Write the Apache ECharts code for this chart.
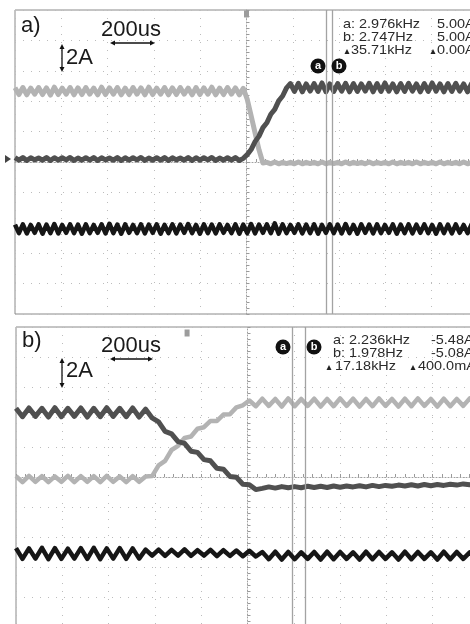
<!DOCTYPE html>
<html><head><meta charset="utf-8">
<script src="https://cdn.jsdelivr.net/npm/echarts@6/dist/echarts.min.js"></script>
<style>html,body{margin:0;padding:0;background:#fff;overflow:hidden;width:470px;height:624px;}#c{width:490px;height:640px;}</style>
</head><body><div id="c"></div>
<script>
// Time axis: microseconds relative to screen centre (200 us/div); value axis: divisions (2 A/div)
const timeStartA = -1000, timeStepA = 17;
const timeStartB = -1000, timeStepB = 28;

// Panel a) light grey trace
const lightA = [
2.44,2.22,2.45,2.21,2.43,2.23,2.45,2.22,2.44,2.20,2.46,2.22,2.43,2.23,2.45,2.21,2.44,2.22,2.45,2.23,
2.43,2.21,2.46,2.22,2.44,2.23,2.45,2.21,2.43,2.22,2.45,2.23,2.44,2.21,2.46,2.22,2.43,2.23,2.45,2.21,
2.44,2.22,2.45,2.23,2.43,2.21,2.45,2.22,2.44,2.23,2.46,2.21,2.43,2.22,2.45,2.23,2.44,2.21,2.42,
2.07,1.52,0.96,0.40,-0.03,
-0.01,-0.06,0.00,-0.06,-0.01,-0.05,-0.01,-0.06,0.00,-0.06,
-0.01,-0.05,-0.01,-0.06,0.00,-0.06,-0.01,-0.05,-0.01,-0.06,
0.00,-0.06,-0.01,-0.05,-0.01,-0.06,0.00,-0.06,-0.01,-0.05,
-0.01,-0.06,0.00,-0.06,-0.01,-0.05,-0.01,-0.06,0.00,-0.06,
-0.01,-0.05,-0.01,-0.06,0.00,-0.06,-0.01,-0.05,-0.01,-0.06,
0.00,-0.06,-0.01,-0.05,-0.01];
// Panel a) dark grey trace
const darkA = [
0.14,0.06,0.15,0.05,0.14,0.07,0.13,0.06,0.15,0.05,
0.14,0.06,0.14,0.07,0.15,0.05,0.13,0.06,0.14,0.06,
0.15,0.05,0.14,0.07,0.13,0.06,0.15,0.05,0.14,0.06,
0.14,0.07,0.15,0.05,0.13,0.06,0.14,0.06,0.15,0.05,
0.14,0.07,0.13,0.06,0.15,0.05,0.14,0.06,0.14,0.07,
0.15,0.05,0.13,0.06,0.14,0.06,0.15,0.05,0.12,
0.24,0.41,0.67,0.85,1.13,1.29,1.57,1.73,2.01,2.17,2.44,
2.58,2.32,2.59,2.31,2.57,2.33,2.58,2.32,2.60,2.31,
2.57,2.32,2.58,2.33,2.59,2.31,2.58,2.32,2.57,2.33,
2.59,2.31,2.58,2.32,2.60,2.33,2.57,2.31,2.58,2.32,
2.59,2.33,2.57,2.31,2.58,2.32,2.60,2.33,2.57,2.31,
2.58,2.32,2.59,2.33,2.57,2.31,2.58,2.32,2.59];
// Panel a) black trace
const blackA = [
-2.06,-2.34,-2.05,-2.35,-2.07,-2.33,-2.05,-2.36,-2.06,-2.34,
-2.04,-2.35,-2.07,-2.33,-2.05,-2.34,-2.06,-2.36,-2.05,-2.34,
-2.07,-2.33,-2.05,-2.35,-2.03,-2.34,-2.06,-2.36,-2.05,-2.33,
-2.07,-2.34,-2.05,-2.35,-2.06,-2.33,-2.05,-2.36,-2.07,-2.34,
-2.05,-2.35,-2.06,-2.33,-2.04,-2.34,-2.07,-2.36,-2.05,-2.34,
-2.06,-2.35,-2.05,-2.33,-2.07,-2.34,-2.05,-2.36,-2.06,-2.34,
-2.04,-2.35,-2.06,-2.33,-2.05,-2.34,-2.02,-2.36,-2.05,-2.34,
-2.07,-2.33,-2.05,-2.35,-2.06,-2.34,-2.05,-2.36,-2.07,-2.33,
-2.05,-2.34,-2.06,-2.35,-2.04,-2.34,-2.07,-2.36,-2.05,-2.33,
-2.06,-2.35,-2.05,-2.34,-2.07,-2.33,-2.05,-2.36,-2.06,-2.34,
-2.05,-2.35,-2.06,-2.33,-2.05,-2.34,-2.07,-2.36,-2.05,-2.34,
-2.06,-2.35,-2.05,-2.33,-2.07,-2.34,-2.05,-2.36,-2.06];

// Panel b) dark grey trace
const darkB = [
2.29,2.01,2.30,2.02,2.29,2.00,2.31,2.01,2.29,2.02,2.30,2.00,2.29,2.01,2.31,2.02,2.29,2.01,2.30,2.00,2.26,
1.97,1.84,1.52,1.44,1.18,1.12,0.86,0.82,0.58,0.54,0.29,0.26,0.02,-0.01,-0.24,-0.26,-0.42,
-0.38,-0.33,-0.37,-0.32,-0.36,-0.32,-0.36,-0.31,-0.35,-0.31,
-0.35,-0.30,-0.34,-0.30,-0.33,-0.29,-0.33,-0.28,-0.32,-0.28,
-0.31,-0.27,-0.30,-0.26,-0.30,-0.25,-0.29,-0.25,-0.28,-0.24,
-0.27,-0.23,-0.26,-0.22,-0.24];
// Panel b) light grey trace
const lightB = [
0.03,-0.17,0.04,-0.16,0.03,-0.17,0.02,-0.16,0.04,-0.17,0.03,-0.16,0.03,-0.17,0.04,-0.16,0.02,-0.17,0.03,-0.16,0.02,
0.03,0.39,0.54,0.90,1.04,1.30,1.35,1.61,1.66,1.87,1.87,2.08,2.09,2.32,2.39,2.55,
2.36,2.61,2.37,2.60,2.35,2.62,2.36,2.60,2.37,2.61,
2.35,2.60,2.36,2.62,2.37,2.61,2.35,2.60,2.36,2.62,
2.37,2.60,2.35,2.61,2.36,2.62,2.37,2.60,2.35,2.61,
2.36,2.60,2.37,2.62,2.35,2.61];
// Panel b) black trace
const blackB = [
-2.37,-2.73,-2.38,-2.72,-2.36,-2.74,-2.37,-2.73,-2.39,-2.72,-2.37,-2.73,-2.36,-2.74,-2.38,-2.72,-2.37,-2.73,-2.38,-2.72,-2.42,
-2.62,-2.42,-2.63,-2.43,-2.62,-2.41,-2.63,-2.44,-2.62,-2.43,-2.64,-2.44,-2.63,-2.45,-2.64,-2.46,-2.65,
-2.50,-2.74,-2.49,-2.75,-2.50,-2.74,-2.51,-2.73,-2.50,-2.75,
-2.49,-2.74,-2.50,-2.73,-2.51,-2.75,-2.49,-2.74,-2.50,-2.73,
-2.51,-2.75,-2.49,-2.74,-2.50,-2.73,-2.51,-2.75,-2.49,-2.74,
-2.50,-2.73,-2.51,-2.75,-2.50];

const cursorsA = [343, 369];
const cursorsB = [192, 248];
const triggerA = [0, 4.87];
const triggerB = [-261, 4.8];

const measA = [['a: 2.976kHz', '5.00A'], ['b: 2.747Hz', '5.00A'], ['35.71kHz', '0.00A']];
const measB = [['a: 2.236kHz', '-5.48A'], ['b: 1.978Hz', '-5.08A'], ['17.18kHz', '400.0mA']];

function pairs(t0, dt, vals) { return vals.map((v, i) => [t0 + dt * i, v]); }

const FF = '"Liberation Sans", Arial, sans-serif';
const C_LIGHT = '#b3b3b3', C_DARK = '#505050', C_BLACK = '#161616';

function xAx(gi) {
  return {type: 'value', gridIndex: gi, min: -1000, max: 1000, interval: 200,
    axisLabel: {show: false},
    axisLine: {show: true, onZero: true, lineStyle: {color: '#a0a0a0', width: 1, type: [1, 2]}},
    axisTick: {show: true, inside: true, length: 3, lineStyle: {color: '#9a9a9a'}},
    minorTick: {show: true, splitNumber: 5, length: 3, lineStyle: {color: '#9a9a9a'}},
    splitLine: {show: true, lineStyle: {color: '#bcbcbc', type: [1, 7], width: 1}}};
}
function yAx(gi) {
  return {type: 'value', gridIndex: gi, min: -5, max: 5, interval: 1,
    axisLabel: {show: false},
    axisLine: {show: true, onZero: true, lineStyle: {color: '#a0a0a0', width: 1, type: [1, 2]}},
    axisTick: {show: true, inside: true, length: 3, lineStyle: {color: '#9a9a9a'}},
    minorTick: {show: true, splitNumber: 5, length: 3, lineStyle: {color: '#9a9a9a'}},
    splitLine: {show: true, lineStyle: {color: '#bcbcbc', type: [1, 7], width: 1}}};
}
function trace(gi, t0, dt, vals, color, w, z, extra) {
  return Object.assign({type: 'line', xAxisIndex: gi, yAxisIndex: gi, data: pairs(t0, dt, vals),
    showSymbol: false, symbol: 'none', silent: true, z: z,
    lineStyle: {color: color, width: w, join: 'round'}}, extra || {});
}
function cursorLines(xs) {
  return {symbol: 'none', silent: true, label: {show: false}, animation: false,
    lineStyle: {color: '#a3a3a3', width: 1.3, type: 'solid'},
    data: xs.map(x => ({xAxis: x}))};
}
function trigMark(c) {
  return {symbol: 'rect', symbolSize: [5, 7], silent: true, label: {show: false},
    itemStyle: {color: '#9c9c9c'}, data: [{coord: c}]};
}

const G = [];
function txt(s, x, y, size, sx, fill) {
  G.push({type: 'text', z: 100, x: x, y: y, scaleX: sx || 1, style: {text: s, x: 0, y: 0,
    font: size + 'px ' + FF, fill: fill || '#1a1a1a', verticalAlign: 'middle', align: 'left'}});
}
function tri(cx, by, s) {
  G.push({type: 'polygon', z: 100, shape: {points: [[cx - s / 2, by], [cx + s / 2, by], [cx, by - s]]}, style: {fill: '#222'}});
}
function hArrow(x1, x2, y) {
  G.push({type: 'line', z: 100, shape: {x1: x1 + 2, y1: y, x2: x2 - 2, y2: y}, style: {stroke: '#111', lineWidth: 1.3}});
  G.push({type: 'polygon', z: 100, shape: {points: [[x1, y], [x1 + 5, y - 2.5], [x1 + 5, y + 2.5]]}, style: {fill: '#111'}});
  G.push({type: 'polygon', z: 100, shape: {points: [[x2, y], [x2 - 5, y - 2.5], [x2 - 5, y + 2.5]]}, style: {fill: '#111'}});
}
function vArrow(x, y1, y2) {
  G.push({type: 'line', z: 100, shape: {x1: x, y1: y1 + 2, x2: x, y2: y2 - 2}, style: {stroke: '#111', lineWidth: 1.3}});
  G.push({type: 'polygon', z: 100, shape: {points: [[x, y1], [x - 2.5, y1 + 5], [x + 2.5, y1 + 5]]}, style: {fill: '#111'}});
  G.push({type: 'polygon', z: 100, shape: {points: [[x, y2], [x - 2.5, y2 - 5], [x + 2.5, y2 - 5]]}, style: {fill: '#111'}});
}
function badge(ch, cx, cy, r) {
  G.push({type: 'circle', z: 100, shape: {cx: cx, cy: cy, r: r}, style: {fill: '#111'}});
  G.push({type: 'text', z: 101, style: {text: ch, x: cx, y: cy, font: 'bold 11px ' + FF, fill: '#fff', align: 'center', verticalAlign: 'middle'}});
}

const MF = 13.5, MS = 1.07, MC = '#2a2a2a';
// Panel a annotations
txt('a)', 21, 26, 22);
txt('200us', 101, 30, 22);
hArrow(110, 155, 43);
vArrow(62, 44, 72);
txt('2A', 66, 57.5, 22);
badge('a', 318, 66, 7.5);
badge('b', 339, 66, 7.5);
txt(measA[0][0], 343, 24, MF, MS, MC);
txt(measA[0][1], 437, 24, MF, MS, MC);
txt(measA[1][0], 343, 37, MF, MS, MC);
txt(measA[1][1], 437, 37, MF, MS, MC);
tri(347, 54, 5); txt(measA[2][0], 351, 50, MF, MS, MC);
tri(433, 54, 5); txt(measA[2][1], 437, 50, MF, MS, MC);
G.push({type: 'polygon', z: 100, shape: {points: [[5, 155], [11, 159], [5, 163]]}, style: {fill: '#444'}});

// Panel b annotations
txt('b)', 22, 341, 22);
txt('200us', 101, 346, 22);
hArrow(110, 153, 359);
vArrow(62, 358, 388);
txt('2A', 66, 371, 22);
badge('a', 283, 347, 7.5);
badge('b', 314, 347, 7.5);
txt(measB[0][0], 333, 340, MF, MS, MC);
txt(measB[0][1], 431, 340, MF, MS, MC);
txt(measB[1][0], 333, 353, MF, MS, MC);
txt(measB[1][1], 431, 353, MF, MS, MC);
tri(329, 370, 5); txt(measB[2][0], 335, 366, MF, MS, MC);
tri(413, 370, 5); txt(measB[2][1], 418, 366, MF, MS, MC);

const option = {
  animation: false,
  backgroundColor: '#ffffff',
  grid: [
    {left: 15, top: 10, width: 463, height: 304, show: true, borderColor: '#8a8a8a', borderWidth: 1, backgroundColor: 'transparent'},
    {left: 16, top: 327, width: 463, height: 300, show: true, borderColor: '#8a8a8a', borderWidth: 1, backgroundColor: 'transparent'}
  ],
  xAxis: [xAx(0), xAx(1)],
  yAxis: [yAx(0), yAx(1)],
  series: [
    trace(0, timeStartA, timeStepA, lightA, C_LIGHT, 5, 3),
    trace(0, timeStartA, timeStepA, darkA, C_DARK, 5, 4, {markPoint: trigMark(triggerA)}),
    trace(0, timeStartA, timeStepA, blackA, C_BLACK, 4.5, 5, {markLine: cursorLines(cursorsA)}),
    trace(1, timeStartB, timeStepB, lightB, C_LIGHT, 4.5, 3),
    trace(1, timeStartB, timeStepB, darkB, C_DARK, 5, 4, {markPoint: trigMark(triggerB)}),
    trace(1, timeStartB, timeStepB, blackB, C_BLACK, 4.5, 5, {markLine: cursorLines(cursorsB)})
  ],
  graphic: G
};
const chart = echarts.init(document.getElementById('c'), null, {renderer: 'canvas'});
chart.setOption(option);
</script></body></html>
